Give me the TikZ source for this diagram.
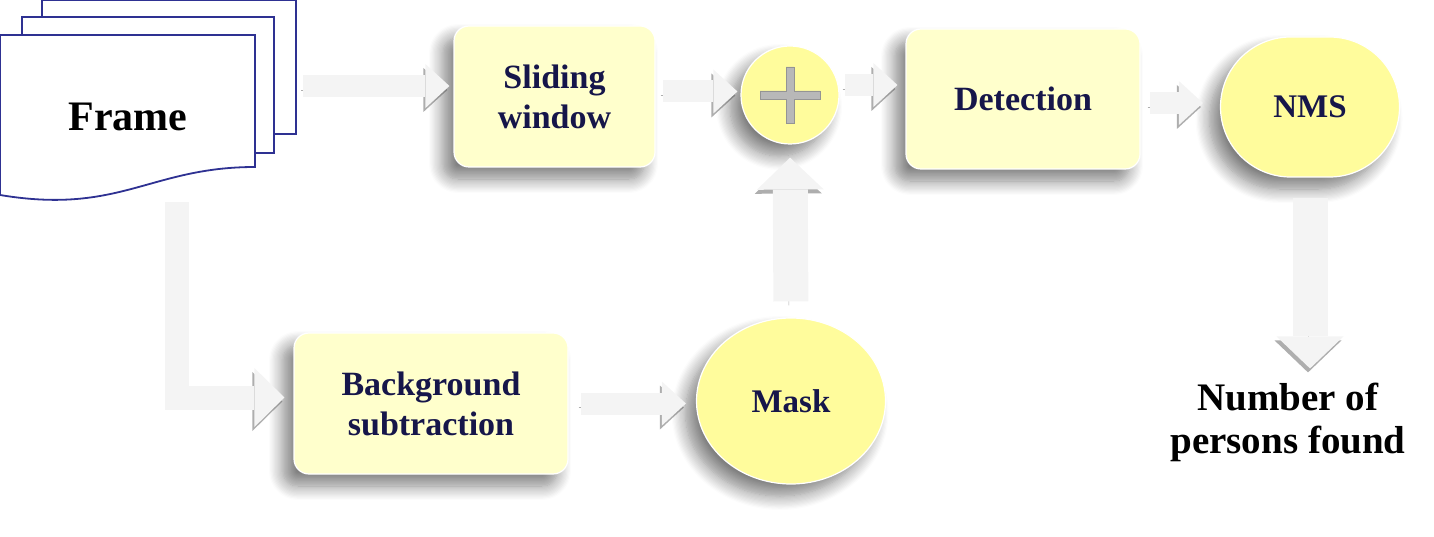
\documentclass[tikz,border=0pt]{standalone}
\usepackage{fontspec}
\setmainfont{Liberation Serif}
\usepackage{tikz}
\usetikzlibrary{arrows.meta, positioning, shapes.geometric, shadows.blur}

\definecolor{boxfill}{HTML}{FFFFCC}
\definecolor{ovalfill}{HTML}{FFFC9C}
\definecolor{inkblue}{HTML}{16164A}
\definecolor{sheetblue}{HTML}{2E3192}
\definecolor{arrowfill}{HTML}{F4F4F4}

\begin{document}
\begin{tikzpicture}[
  x=1pt, y=-1pt,
  softshadow/.style={blur shadow={shadow xshift=-11pt, shadow yshift=-12pt, shadow blur radius=14pt, shadow blur steps=12, shadow opacity=50}},
  box/.style={draw=white, line width=1.2pt, fill=boxfill, rounded corners=15pt, align=center, text=inkblue,
    font=\fontsize{34}{40}\selectfont\bfseries, inner sep=0pt, softshadow},
  oval/.style={draw=white, line width=1.2pt, fill=ovalfill, align=center, text=inkblue,
    font=\fontsize{33}{38}\selectfont\bfseries, inner sep=0pt, softshadow},
  sheet/.style={draw=sheetblue, line width=1.8pt, fill=white},
  crossbar/.style={fill=black!28, draw=black!42, line width=0.8pt},
  flow/.style={line width=22pt, draw=arrowfill, line join=miter,
    -{Triangle[width=44pt, length=24pt, line width=0pt]},
    preaction={draw=black!70, opacity=.45, transform canvas={xshift=-2pt, yshift=-4pt}}},
  flowv/.style={flow, line width=35pt, -{Triangle[width=67pt, length=32pt, line width=0pt]}},
  flowl/.style={flow, line width=24pt, -{Triangle[width=59pt, length=30pt, line width=0pt]}}
]
\useasboundingbox (0,0) rectangle (1434,537);

% stack of frames
\draw[sheet] (42,0) rectangle (296,134);
\draw[sheet] (22,17) rectangle (274,153);
\draw[sheet] (0,195) -- (0,35) -- (255,35) -- (255,167)
  .. controls (150,167) and (120,215) .. (0,195) -- cycle;
\node[font=\fontsize{42}{48}\selectfont\bfseries] (frame) at (128,117) {Frame};
\coordinate (stackout) at (303,86);
\coordinate (stackdown) at (177,202);

% blocks
\node[box, minimum width=201pt, minimum height=141pt] (slide) at (554.5,96.5) {Sliding\\window};
\node[oval, circle, minimum size=98pt] (sum) at (790,95) {};
\node[box, minimum width=234pt, minimum height=140pt] (detect) at (1023,99) {Detection};
\node[oval, rounded corners=70pt, minimum width=179pt, minimum height=140pt] (nms) at (1310,107) {NMS};
\node[box, minimum width=274pt, minimum height=141pt] (bgsub) at (431,403.5) {Background\\subtraction};
\node[oval, ellipse, minimum width=189pt, minimum height=166pt] (mask) at (791,401) {Mask};
\node[align=center, inner sep=0pt, font=\fontsize{39}{43}\selectfont\bfseries] (count) at (1288,422) {Number of\\persons found};

% plus sign
\filldraw[crossbar] (sum.center) ++(-4,-28) -- ++(8,0) -- ++(0,24) -- ++(26,0) -- ++(0,8) -- ++(-26,0)
  -- ++(0,24) -- ++(-8,0) -- ++(0,-24) -- ++(-26,0) -- ++(0,-8) -- ++(26,0) -- cycle;

% connectors
\draw[flow, shorten >=4pt] (stackout) -- (stackout -| slide.west);
\draw[flow, shorten <=7pt, shorten >=3pt] ([yshift=5pt]slide.east) -- ([yshift=5pt]slide.east -| sum.west);
\draw[flow, shorten <=5pt, shorten >=8pt] ([yshift=10pt]sum.east) -- ([yshift=10pt]sum.east -| detect.west);
\draw[flow, shorten <=9pt, shorten >=17pt] ([yshift=-4pt]detect.east) -- ([yshift=-4pt]detect.east -| nms.west);
\draw[flowv, shorten <=20pt, shorten >=14pt] (nms.south) -- (nms.south |- count.north);
\draw[flowv, shorten <=16pt, shorten >=13pt] (mask.north) -- (sum.south);
\draw[flow, shorten <=12pt, shorten >=10pt] (bgsub.east) -- (bgsub.east -| mask.west);
\draw[flowl, shorten >=9pt] (stackdown) |- ([yshift=6pt]bgsub.west);
\end{tikzpicture}
\end{document}
